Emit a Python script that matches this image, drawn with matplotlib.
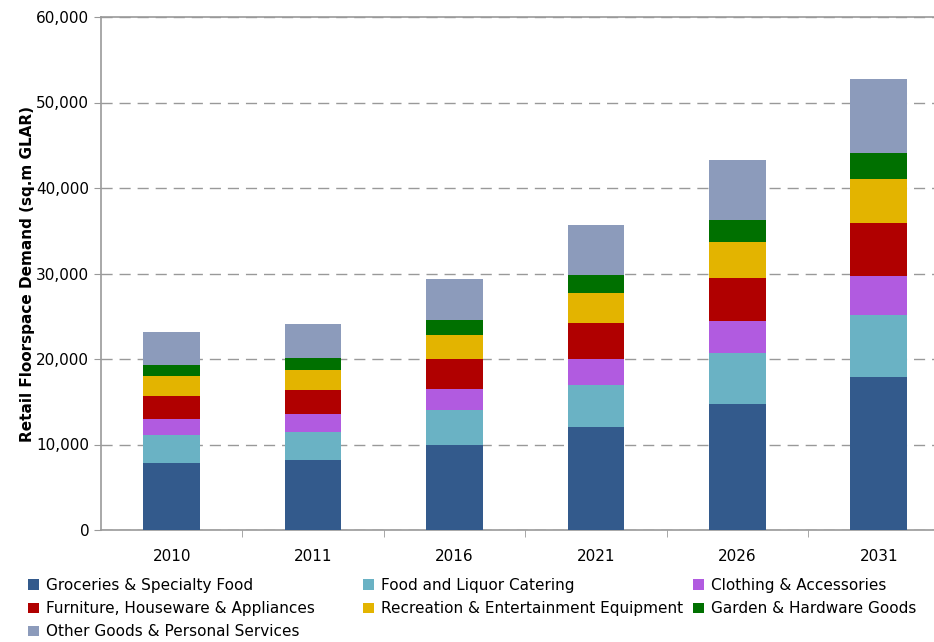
import matplotlib
matplotlib.use('Agg')
import matplotlib.pyplot as plt
import numpy as np
from matplotlib.ticker import FuncFormatter

years = ['2010', '2011', '2016', '2021', '2026', '2031']

groceries = [7830, 8140, 10000, 12070, 14730, 17930]
food_liquor = [3230, 3310, 4030, 4890, 5980, 7190]
clothing = [1950, 2100, 2500, 3090, 3700, 4570]
furniture = [2720, 2850, 3480, 4150, 5090, 6210]
recreation = [2250, 2340, 2820, 3520, 4220, 5120]
garden = [1330, 1400, 1680, 2070, 2500, 3130]
other = [3860, 3970, 4860, 5870, 7110, 8590]

series = [
    ('Groceries & Specialty Food', groceries, '#335a8c'),
    ('Food and Liquor Catering', food_liquor, '#6ab2c4'),
    ('Clothing & Accessories', clothing, '#b15be0'),
    ('Furniture, Houseware & Appliances', furniture, '#b00000'),
    ('Recreation & Entertainment Equipment', recreation, '#e3b400'),
    ('Garden & Hardware Goods', garden, '#007000'),
    ('Other Goods & Personal Services', other, '#8c9bbb'),
]

plt.rcParams.update({"font.family": "DejaVu Sans"})

fig = plt.figure(figsize=(9.34, 6.42), dpi=100)
# axes runs a bit past the right edge like the original crop
ax = fig.add_axes([101/934, (642-530)/642, 848.4/934, 513/642])

x = np.arange(len(years))
bottom = np.zeros(len(years))
handles = {}
for name, vals, col in series:
    b = ax.bar(x, vals, width=0.4, bottom=bottom, color=col, label=name, zorder=3)
    handles[name] = b
    bottom += np.array(vals)

ax.set_xlim(-0.5, 5.5)
ax.set_ylim(0, 60000)
ax.set_yticks(np.arange(0, 60001, 10000))
ax.yaxis.set_major_formatter(FuncFormatter(lambda v, p: f'{int(v):,}'))
ax.set_xticks(x)
ax.set_xticklabels(years)
ax.set_xticks(np.arange(0.5, 5.5, 1), minor=True)
ax.tick_params(axis='x', which='major', length=0, pad=14, labelsize=11)
ax.tick_params(axis='x', which='minor', length=5, color='#999999', direction='out')
ax.tick_params(axis='y', length=5, color='#999999', direction='out', labelsize=11)

ax.grid(axis='y', ls=(0, (8, 5)), color='#999999', lw=1, zorder=0)
for s in ['left', 'bottom', 'top']:
    ax.spines[s].set_color('#999999')
    ax.spines[s].set_linewidth(1.2)
ax.spines['right'].set_visible(False)

ax.set_ylabel('Retail Floorspace Demand (sq.m GLAR)', fontsize=11, fontweight='bold', labelpad=1)

# legend laid out as three fixed columns, like the original
cols = [
    (22, ['Groceries & Specialty Food', 'Furniture, Houseware & Appliances',
          'Other Goods & Personal Services']),
    (357, ['Food and Liquor Catering', 'Recreation & Entertainment Equipment']),
    (687, ['Clothing & Accessories', 'Garden & Hardware Goods']),
]
for xpos, names in cols:
    fig.legend([handles[n] for n in names], names, loc='upper left',
               bbox_to_anchor=(xpos/934, 1 - 572/642), frameon=False, fontsize=11,
               handlelength=0.7, handleheight=0.7, handletextpad=0.45,
               labelspacing=0.53, borderaxespad=0)

plt.savefig('out.png', dpi=100)
